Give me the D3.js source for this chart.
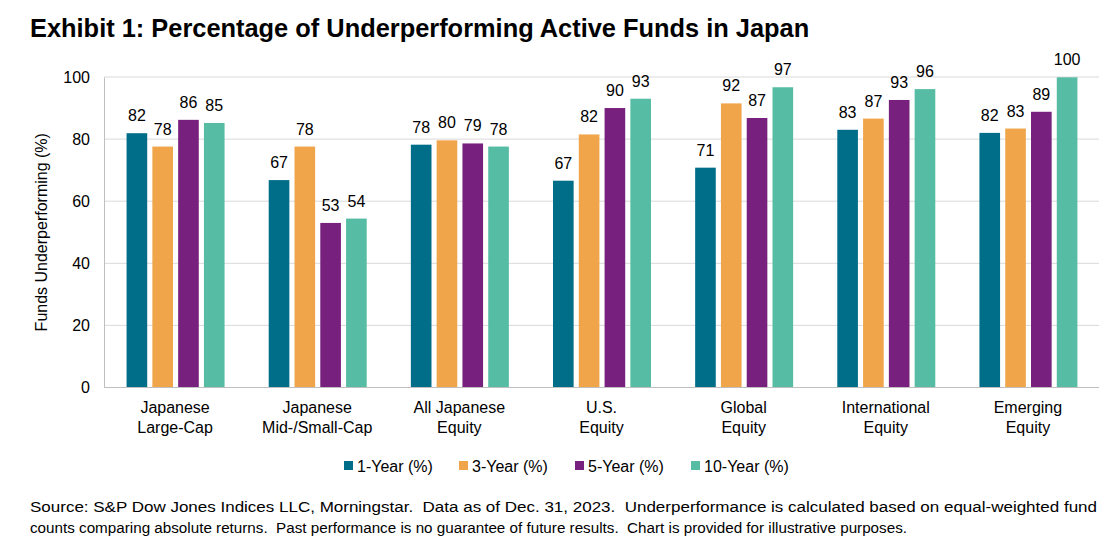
<!DOCTYPE html>
<html><head><meta charset="utf-8">
<script src="https://cdn.jsdelivr.net/npm/d3@7"></script>
<style>body{margin:0;background:#fff;} svg{display:block;font-family:Arial,"Liberation Sans",sans-serif;}</style>
</head><body><svg id="c" width="1112" height="547"></svg>
<script>
const categories = [["Japanese","Large-Cap"],["Japanese","Mid-/Small-Cap"],["All Japanese","Equity"],["U.S.","Equity"],["Global","Equity"],["International","Equity"],["Emerging","Equity"]];
const seriesNames = ["1-Year (%)","3-Year (%)","5-Year (%)","10-Year (%)"];
const colors = ["#006e89","#f0a54b","#78207e","#56bca4"];
const oneYear = [81.9, 66.8, 78.2, 66.6, 70.8, 83.0, 82.0];
const threeYear = [77.6, 77.6, 79.6, 81.5, 91.5, 86.6, 83.4];
const fiveYear = [86.2, 53.0, 78.6, 90.0, 86.8, 92.6, 88.8];
const tenYear = [85.2, 54.4, 77.6, 93.0, 96.7, 96.1, 99.9];
const yTicks = [0, 20, 40, 60, 80, 100];
const series = [oneYear, threeYear, fiveYear, tenYear];

const svg = d3.select("#c");
const mLeft = 104, mRight = 1099, mTop = 77, mBottom = 387.5;
const x = d3.scaleBand().domain(d3.range(categories.length)).range([mLeft, mRight]);
const y = d3.scaleLinear().domain([0, 100]).range([mBottom, mTop]);
const groupW = 98;
const inner = d3.scaleBand().domain(d3.range(4)).range([0, groupW]).paddingInner(0.2);
const gx = i => x(i) + x.bandwidth() / 2 - groupW / 2 + 0.5;

svg.append("text").attr("x", 30).attr("y", 37).attr("font-size", 25.4).attr("font-weight", "bold").attr("fill", "#000")
  .text("Exhibit 1: Percentage of Underperforming Active Funds in Japan");

// gridlines
svg.append("g").selectAll("line").data(yTicks.filter(d => d > 0)).join("line")
  .attr("x1", mLeft).attr("x2", mRight).attr("y1", d => y(d)).attr("y2", d => y(d))
  .attr("stroke", "#d9d9d9").attr("stroke-width", 1);
// y axis
const yAxis = svg.append("g").attr("transform", `translate(${mLeft},0)`)
  .call(d3.axisLeft(y).tickValues(yTicks).tickSize(0).tickPadding(14));
yAxis.select(".domain").attr("stroke", "#bfbfbf");
yAxis.selectAll("text").attr("font-size", 16).attr("fill", "#000").attr("font-family", "Arial,'Liberation Sans',sans-serif");

// bars
series.forEach((vals, si) => {
  svg.append("g").selectAll("rect").data(vals).join("rect")
    .attr("x", (d, i) => gx(i) + inner(si))
    .attr("width", inner.bandwidth())
    .attr("y", d => y(d)).attr("height", d => y(0) - y(d))
    .attr("fill", colors[si]);
  svg.append("g").selectAll("text").data(vals).join("text")
    .attr("x", (d, i) => gx(i) + inner(si) + inner.bandwidth() / 2)
    .attr("y", d => y(d) - 12)
    .attr("text-anchor", "middle").attr("font-size", 16).attr("fill", "#000")
    .text(d => d3.format(".0f")(d));
});

// x axis
svg.append("line").attr("x1", mLeft).attr("x2", mRight).attr("y1", y(0)).attr("y2", y(0)).attr("stroke", "#bfbfbf");
const xl = svg.append("g").selectAll("text").data(categories).join("text")
  .attr("text-anchor", "middle").attr("font-size", 16).attr("fill", "#000");
xl.each(function(d, i) {
  const t = d3.select(this);
  d.forEach((line, j) => t.append("tspan").attr("x", x(i) + x.bandwidth() / 2).attr("y", 413 + j * 20).text(line));
});

// y title
svg.append("text").attr("transform", `translate(47,${(mTop + mBottom) / 2}) rotate(-90)`)
  .attr("text-anchor", "middle").attr("font-size", 16).attr("fill", "#000").text("Funds Underperforming (%)");

// legend
const legX = [344, 459, 575, 691];
const leg = svg.append("g").selectAll("g").data(seriesNames).join("g")
  .attr("transform", (d, i) => `translate(${legX[i]},466)`);
leg.append("rect").attr("x", 0).attr("y", -5).attr("width", 9).attr("height", 9).attr("fill", (d, i) => colors[i]);
leg.append("text").attr("x", 13).attr("y", 5.5).attr("font-size", 16).attr("fill", "#000").text(d => d);

// footer
const foot = ["Source: S&P Dow Jones Indices LLC, Morningstar.  Data as of Dec. 31, 2023.  Underperformance is calculated based on equal-weighted fund",
  "counts comparing absolute returns.  Past performance is no guarantee of future results.  Chart is provided for illustrative purposes."];
const footLen = [1067, 877];
svg.append("g").selectAll("text").data(foot).join("text")
  .attr("x", 30).attr("y", (d, i) => 512 + i * 21)
  .attr("font-family", "'Liberation Sans Narrow','Arial Narrow',Arial,sans-serif")
  .attr("font-size", 15.5).attr("fill", "#000").style("white-space", "pre")
  .attr("textLength", (d, i) => footLen[i]).attr("lengthAdjust", "spacingAndGlyphs")
  .text(d => d);
</script></body></html>
